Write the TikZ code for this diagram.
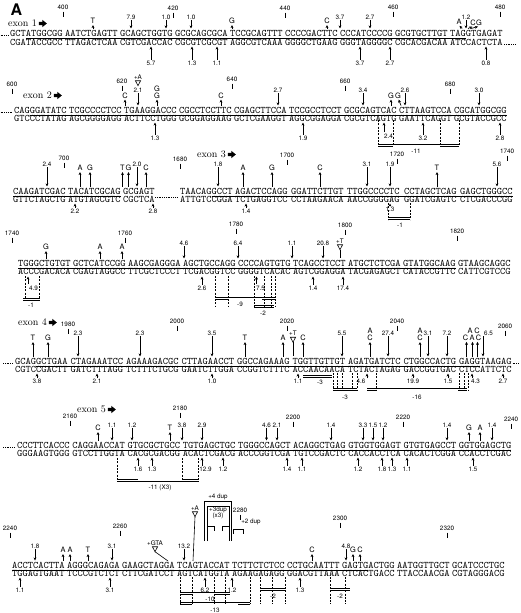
\documentclass[tikz,border=0pt]{standalone}
\usepackage{fontspec}
\newfontfamily\hv{TeX Gyre Heros}
\usetikzlibrary{arrows.meta}
\tikzset{
 seq/.style={font=\fontsize{10}{10}\selectfont\ttfamily, inner sep=0pt, anchor=base west},
 lbl/.style={font=\hv\fontsize{6.3}{6.5}\selectfont, inner sep=0pt},
 lett/.style={font=\hv\fontsize{7.4}{7.5}\selectfont, inner sep=0pt},
 exonlbl/.style={font=\rmfamily\fontsize{10}{10}\selectfont, inner sep=0pt, anchor=west},
 arr/.style={-{Stealth[length=3.1pt,width=2.9pt]}, line width=0.7pt},
 tk/.style={line width=0.6pt},
 dsh/.style={line width=0.6pt, dash pattern=on 2pt off 1.3pt},
 brk/.style={line width=0.65pt},
 uline/.style={line width=0.55pt},
 dots/.style={line width=0.7pt, dash pattern=on 0.7pt off 1.1pt},
}
\newcommand\srow[2]{\foreach \xx/\gg in {#2} {\node[seq] at (\xx,#1) {\gg};}}
\newcommand\pmark[3]{\node[lbl] at (#1,#2) {#3}; \draw[tk] (#1,#2+4.5) -- (#1,#2+10);}
\newcommand\dnum[2]{\node[lbl] at (#1,\myLy) {#2}; \draw[arr] (#1,\myLy+3) -- (#1,\myTip);}
\newcommand\sletter[2]{\node[lett] at (#1,\myLly) {#2}; \draw[arr] (#1,\myTip) -- (#1,\myLly+4);}
\newcommand\unum[2]{\node[lbl] at (#1,\myBny) {#2}; \draw[arr] (#1,\myBny-3.2) -- (#1,\myBtip);}
\newcommand\insm[3]{\node[lbl] at (#1,#2) {#3}; \draw[tk] (#1-2.6,#2+3.7) -- (#1+2.6,#2+3.7) -- (#1,#2+8.7) -- cycle;}
\newcommand\exonlab[3]{\node[exonlbl] (e#3) at (#1,#2) {exon #3};
 \fill ([xshift=1.8pt]e#3.east) ++(0,-1.7) -- ++(3.6,0) -- ++(0,-1.9) -- ++(4.4,3.6) -- ++(-4.4,3.6) -- ++(0,-1.9) -- ++(-3.6,0) -- cycle;}
\begin{document}
\begin{tikzpicture}[x=1pt,y=-1pt]
\useasboundingbox (0,0) rectangle (520,613);
\node[font=\hv\bfseries\fontsize{16}{16}\selectfont, inner sep=0] (lblA) at (16.5,9.5) {A};

% ================= BLOCK 1 =================
\def\myLy{17}\def\myLly{21}\def\myTip{28.5}\def\myBtip{46.5}\def\myBny{63}
\exonlab{8}{23.5}{1}
\srow{36}{10/GCTATGGCGG,65/AATCTGAGTT,120/GCAGCTGGTG,175/GCGCAGCGCA,230/TCCGCAGTTT,285/CCCCGACTTC,340/CCCATCCCCG,395/GCGTGCTTGT,450/TAGGTGAGAT}
\srow{45}{10/CGATACCGCC,65/TTAGACTCAA,120/CGTCGACCAC,175/CGCGTCGCGT,230/AGGCGTCAAA,285/GGGGCTGAAG,340/GGGTAGGGGC,395/CGCACGACAA,450/ATCCACTCTA}
\draw[uline] (25.75,37.9) -- (465.75,37.9);
\draw[dots] (0.5,35.6) -- (9,35.6);
\draw[dots] (504,44.6) -- (516,44.6);
\pmark{63}{7}{400}\pmark{173}{8}{420}\pmark{285}{8}{440}\pmark{393}{7}{460}\pmark{500}{7}{480}
\sletter{93}{T}\sletter{232}{G}\sletter{327}{C}
\dnum{131}{7.9}\dnum{166}{1.0}\dnum{191}{1.0}\dnum{340}{3.7}\dnum{370}{2.7}\dnum{466}{1.2}
\node[lett] at (459,22) {A}; \draw[arr] (462,\myTip) -- (459.5,25.8);
\node[lett] at (473,23) {C}; \draw[arr] (468,\myTip) -- (472.3,26.6);
\node[lett] at (479,23) {G}; \draw[arr] (471,\myTip) -- (478,26.6);
\unum{151}{5.7}\unum{192}{1.3}\unum{217}{1.1}\unum{360}{3.7}\unum{390}{2.7}\unum{486}{0.8}

% ================= BLOCK 2 =================
\def\myLy{90}\def\myLly{95.5}\def\myTip{105.5}\def\myBtip{122.5}\def\myBny{138}
\exonlab{23}{95.5}{2}
\srow{113}{14/CAGGGATATC,69/TCGCCCCTCC,124/TGAAGGACCC,179/CGCCTCCTTC,234/CGAGCTTCCA,289/TCCGCCTCCT,344/GCGCAGTCAC,399/CTTAAGTCCA,454/CGCATGGCGG}
\srow{121.5}{14/GTCCCTATAG,69/AGCGGGGAGG,124/ACTTCCTGGG,179/GCGGAGGAAG,234/GCTCGAAGGT,289/AGGCGGAGGA,344/CGCGTCAGTG,399/GAATTCAGGT,454/GCGTACCGCC}
\draw[uline] (29.75,114.9) -- (506.5,114.9);
\draw[dots] (0.5,112.6) -- (12,112.6);
\pmark{12}{84}{600}\pmark{122}{81}{620}\pmark{232}{79}{640}\pmark{345}{81}{660}\pmark{450}{84}{680}
\insm{138}{77}{+A}
\dnum{138}{2.1}\dnum{278}{2.7}\dnum{363}{3.4}\dnum{405}{2.6}\dnum{479}{3.0}
\sletter{125}{C}\sletter{221}{C}\sletter{391}{G}
\node[lett] at (157,88.5) {G}; \node[lett] at (157,95.5) {G}; \draw[arr] (157,\myTip) -- (157,99.5);
\node[lett] at (398,95.5) {G}; \draw[arr] (401,\myTip) -- (398.6,99.5);
\unum{155}{1.3}\unum{303}{1.9}\unum{423}{3.2}\unum{500}{2.8}
\node[lbl] at (388.5,136) {2.4}; \draw[arr] (384,132) -- (384,\myBtip);
\foreach \xx in {378,393,440,459} \draw[dsh] (\xx,120) -- (\xx,145);
\draw[brk] (378,144.6) -- (459,144.6);
\draw[brk] (378,146.8) -- (393,146.8) (440,146.8) -- (459,146.8);
\node[lbl] at (416,151) {-11};

% ================= BLOCK 3 =================
\def\myLy{164}\def\myLly{168}\def\myTip{186.5}\def\myBtip{203.5}\def\myBny{211}
\exonlab{197}{154.5}{3}
\srow{194}{13/CAAGATCGAC,68/TACATCGCAG,123/GCGAGT,180/TAACAGGCCT,235/AGACTCCAGG,291/GGATTCTTGT,347/TTGGCCCCTC,404/CCTAGCTCAG,460/GAGCTGGGCC}
\srow{202.5}{13/GTTCTAGCTG,68/ATGTAGCGTC,123/CGCTCA,180/ATTGTCCGGA,235/TCTGAGGTCC,291/CCTAAGAACA,347/AACCGGGGAG,404/GGATCGAGTC,460/CTCGACCCGG}
\draw[uline] (13,195.9) -- (120.5,195.9);
\draw[uline] (211.5,195.9) -- (512.5,195.9);
\draw[dots] (155,197.5) -- (177,197.5);
\pmark{64}{158}{700}\pmark{180}{159}{1680}\pmark{287}{155}{1700}\pmark{397}{154}{1720}\pmark{507}{151}{1740}
\dnum{47}{2.4}\dnum{137}{2.0}\dnum{218}{1.8}\dnum{367}{3.1}\dnum{390}{1.9}\dnum{497}{5.6}
\sletter{80}{A}\sletter{90}{G}\sletter{122.5}{T}\sletter{128.5}{G}\sletter{146}{C}\sletter{243}{A}\sletter{272}{G}\sletter{320}{C}\sletter{437}{T}
\unum{75}{2.2}\unum{153}{2.8}\unum{246}{1.4}
\node[lbl] at (390,209.5) {1.3}; \draw[arr] (390,206.3) -- (390,\myBtip);
\foreach \xx in {388,410} \draw[dsh] (\xx,203) -- (\xx,219.5);
\draw[brk] (388,217.6) -- (410,217.6) (388,219.8) -- (410,219.8);
\node[lbl] at (400,225) {-1};

% ================= BLOCK 4 =================
\def\myLy{243}\def\myLly{247}\def\myTip{258.5}\def\myBtip{276.5}\def\myBny{288}
\srow{266}{18/TGGGCTGTGT,73/GCTCATCCGG,128/AAGCGAGGGA,183/AGCTGCCAGG,238/CCCCAGTGTG,293/TCAGCCTCCT,348/ATGCTCTCGA,403/GTATGGCAAG,458/GTAAGCAGGC}
\srow{274.5}{18/ACCCGACACA,73/CGAGTAGGCC,128/TTCGCTCCCT,183/TCGACGGTCC,238/GGGGTCACAC,293/AGTCGGAGGA,348/TACGAGAGCT,403/CATACCGTTC,458/CATTCGTCCG}
\draw[uline] (18,267.9) -- (455.5,267.9);
\pmark{12}{233}{1740}\pmark{125}{233}{1760}\pmark{236}{224}{1780}\pmark{345}{225}{1800}\pmark{457}{231}{1820}
\sletter{46}{G}\sletter{100}{A}\sletter{122}{A}
\dnum{184}{4.6}\dnum{238}{6.4}\dnum{292}{1.1}\dnum{323}{20.8}
\insm{340}{241}{+T}\draw[tk] (340,249.7) -- (340,258);
\node[lbl] at (33.5,288) {4.9}; \draw[arr] (28,284) -- (28,\myBtip);
\foreach \xx in {25,39} \draw[dsh] (\xx,276) -- (\xx,298);
\draw[brk] (23,298.2) -- (40,298.2) (23,300.4) -- (40,300.4);
\node[lbl] at (31,305) {-1};
\unum{202}{2.6}\unum{313}{1.4}\unum{343}{17.4}
\node[lbl] at (260.5,288) {7.5}; \draw[arr] (256.5,284) -- (256.5,\myBtip);
\foreach \xx in {215,228,254,264,271,275} \draw[dsh] (\xx,276) -- (\xx,306);
\draw[brk] (215,297.6) -- (275,297.6);
\draw[brk] (215,299.8) -- (228,299.8) (262,299.8) -- (275,299.8);
\node[lbl] at (240,304) {-9};
\draw[brk] (254,305.6) -- (274,305.6) (254,307.8) -- (274,307.8);
\node[lbl] at (263,313.5) {-2};

% ================= BLOCK 5 (exon 4) =================
\def\myLy{333}\def\myLly{338}\def\myTip{356.5}\def\myBtip{373.5}\def\myBny{381.5}
\exonlab{18}{322.5}{4}
\srow{364}{15/GCAGGCTGAA,70.5/CTAGAAATCC,126/AGAAAGACGC,181.5/CTTAGAACCT,237/GGCCAGAAAG,292.5/TGGTTGTTGT,348/AGATGATCTC,403.5/CTGGCCACTG,459/GAGGTAAGAG}
\srow{372.5}{15/CGTCCGACTT,70.5/GATCTTTAGG,126/TCTTTCTGCG,181.5/GAATCTTGGA,237/CCGGTCTTTC,292.5/ACCAACAACA,348/TCTACTAGAG,403.5/GACCGGTGAC,459/CTCCATTCTC}
\draw[uline] (36,365.9) -- (480,365.9);
\draw[dots] (3,363.6) -- (13.5,363.6);
\draw[dots] (512.5,363.6) -- (519.5,363.6);
\pmark{68}{324}{1980}\pmark{177}{321}{2000}\pmark{287}{321}{2020}\pmark{397}{321}{2040}\pmark{505}{326}{2060}
\dnum{78}{2.3}\dnum{140}{2.3}\dnum{212}{3.5}\dnum{342}{5.5}\dnum{388}{27.4}\dnum{428}{3.1}\dnum{447}{7.2}
\node[lbl] at (488.5,333) {6.5}; \draw[arr] (483,336) -- (483,\myTip);
\sletter{33}{T}\sletter{48}{G}\sletter{245}{T}\sletter{283}{A}\sletter{303}{C}
\insm{293}{333.5}{+T}\draw[tk] (293,342.2) -- (293,356);
\foreach \xx in {370,420} {\node[lett] at (\xx,330.5) {A}; \node[lett] at (\xx,338) {C}; \draw[arr] (\xx,\myTip) -- (\xx,342);}
\node[lett] at (470,330.5) {A}; \node[lett] at (477,330.5) {C};
\node[lett] at (465.5,337.5) {C}; \node[lett] at (472,337.5) {A}; \node[lett] at (478.5,337.5) {C};
\foreach \xx in {466.5,472.5,477.5} \draw[arr] (\xx,\myTip) -- (\xx,341.8);
\unum{37}{3.8}\unum{97}{2.1}\unum{212}{1.0}\unum{298}{1.1}\unum{413}{19.9}\unum{448}{1.5}\unum{503}{2.7}
\node[lbl] at (361,381.5) {4.6}; \draw[arr] (367,378.3) -- (367,\myBtip);
\node[lbl] at (475.5,381.5) {4.3}; \draw[arr] (472,378.3) -- (472,\myBtip);
\foreach \xx in {333,337,342,352,357,376,459,464,468} \draw[dsh] (\xx,373) -- (\xx,391);
\draw[brk] (303,375.2) -- (332,375.2) (303,377.4) -- (332,377.4);
\node[lbl] at (320,382.5) {-3};
\draw[brk] (333,388.6) -- (357,388.6) (333,390.8) -- (357,390.8);
\node[lbl] at (345,397) {-3};
\draw[brk] (367,388.6) -- (467,388.6);
\draw[brk] (367,390.8) -- (376,390.8) (458,390.8) -- (467,390.8);
\node[lbl] at (417,397) {-16};

% ================= BLOCK 6 (exon 5) =================
\def\myLy{425}\def\myLly{428}\def\myTip{440.5}\def\myBtip{457.5}\def\myBny{469}
\exonlab{77}{409.5}{5}
\srow{448}{17/CCCTTCACCC,72.2/CAGGAACCAT,127.4/GTGCGCTGCC,182.6/TGTGAGCTGC,237.8/TGGGCCAGCT,293/ACAGGCTGAG,348.2/GTGGTGGAGT,403.4/GTGTGAGCCT,458.6/GGTGGAGCTG}
\srow{456.5}{17/GGGAAGTGGG,72.2/GTCCTTGGTA,127.4/CACGCGACGG,182.6/ACACTCGACG,237.8/ACCCGGTCGA,293/TGTCCGACTC,348.2/CACCACCTCA,403.4/CACACTCGGA,458.6/CCACCTCGAC}
\draw[uline] (88,449.9) -- (511,449.9);
\draw[dots] (3,447.6) -- (15,447.6);
\pmark{70}{416}{2160}\pmark{180}{408}{2180}\pmark{293}{417}{2200}\pmark{403}{417}{2220}\pmark{511}{419}{2240}
\dnum{112}{1.1}\dnum{132}{1.2}\dnum{182}{3.8}\dnum{202}{2.9}\dnum{266.5}{4.6}\dnum{277}{2.1}\dnum{331}{1.4}\dnum{363}{3.3}\dnum{373}{1.5}\dnum{383}{1.2}\dnum{447}{1.4}\dnum{492}{1.4}
\sletter{98}{C}\sletter{170}{T}\sletter{469}{G}\sletter{480}{A}
\unum{138}{1.6}\unum{152}{1.3}\unum{223}{1.2}\unum{287}{1.4}\unum{302}{1.1}\unum{358}{1.2}\unum{382}{1.8}\unum{392}{1.3}\unum{407}{1.1}\unum{473}{1.5}
\node[lbl] at (205.5,469) {12.9}; \draw[arr] (202,465.8) -- (202,\myBtip);
\foreach \xx in {117,182,198} \draw[dsh] (\xx,458) -- (\xx,482);
\draw[brk] (117,479.6) -- (138,479.6) (182,479.6) -- (198,479.6);
\draw[brk] (117,481.8) -- (198,481.8);
\node[lbl] at (160,488) {-11 (X3)};

% ================= BLOCK 7 =================
\def\myLy{546}\def\myLly{550}\def\myTip{560.5}\def\myBtip{577.5}\def\myBny{590}
\srow{568}{12/ACCTCACTTA,67/AGGGCAGAGA,122/GAAGCTAGGA,177/TCAGTACCAT,232/TCTTCTCTCC,287/CCTGCAATTT,342/GAGTGACTGG,397/AATGGTTGCT,452/GCATCCCTGC}
\srow{576.5}{12/TGGAGTGAAT,67/TCCCGTCTCT,122/CTTCGATCCT,177/AGTCATGGTA,232/AGAAGAGAGG,287/GGACGTTAAA,342/CTCACTGACC,397/TTACCAACGA,452/CGTAGGGACG}
\draw[uline] (12,569.9) -- (368,569.9);
\pmark{10}{528}{2240}\pmark{120}{526}{2260}\pmark{240}{510}{2280}\pmark{340}{518}{2300}\pmark{447}{528}{2320}
\dnum{35}{1.8}\dnum{112}{3.1}\dnum{184}{13.2}\dnum{346}{4.8}
\sletter{63}{A}\sletter{70}{A}\sletter{88}{T}\sletter{312}{C}\sletter{353}{G}\sletter{360}{C}
\insm{155}{543}{+GTA}\draw[tk] (155,551.7) -- (168,561);
\insm{195}{508}{+A}\draw[tk] (195,516.7) -- (193,561);
\node[lbl] at (218,497) {+4 dup};
\draw[brk] (204,541) -- (204,501.5) -- (231,501.5) -- (231,541);
\node[lbl] at (218,509.5) {+3dup};
\node[lbl] at (218,515.8) {(x3)};
\draw[brk] (207,541) -- (207,506) -- (229,506) -- (229,541);
\draw[brk] (207,531) -- (207,526) -- (214,526) -- (214,531);
\draw[brk] (222,531) -- (222,526) -- (229,526) -- (229,531);
\node[lbl] at (251,522) {+2 dup};
\draw[brk] (233,534) -- (233,529) -- (243,529) -- (243,534);
\unum{20}{1.1}\unum{110}{3.1}\unum{205}{6.2}\unum{232}{1.2}\unum{300}{1.3}
\foreach \xx in {180,192,214,225,250,260,272,285,330,345} \draw[dsh] (\xx,577) -- (\xx,604);
\draw[brk] (180,592) -- (230,592) (180,594.2) -- (192,594.2) (214,594.2) -- (230,594.2);
\node[lbl] at (210,599) {-10};
\draw[brk] (180,602.5) -- (250,602.5) (180,604.7) -- (192,604.7) (238,604.7) -- (250,604.7);
\node[lbl] at (215,610) {-13};
\draw[brk] (260,588.5) -- (285,588.5) (260,590.7) -- (285,590.7);
\node[lbl] at (273,596.5) {-2};
\draw[brk] (330,588.5) -- (350,588.5) (330,590.7) -- (350,590.7);
\node[lbl] at (340,596.5) {-2};
\end{tikzpicture}
\end{document}
